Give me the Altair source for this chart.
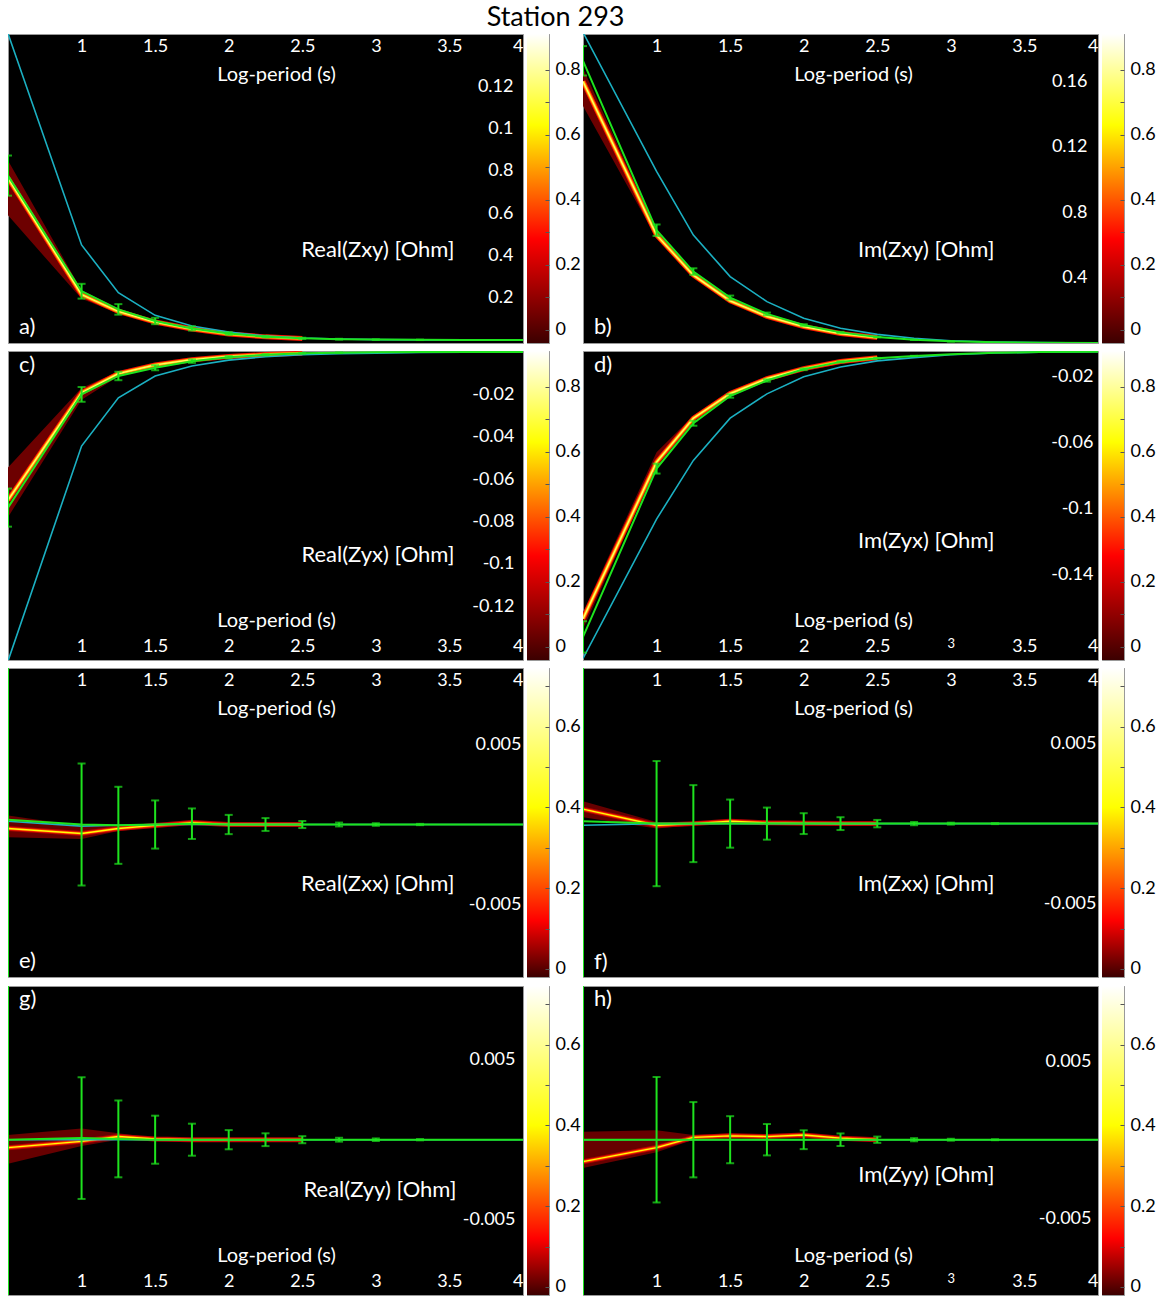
import altair as alt
import pandas as pd

# ---------------- data ----------------
X = [0.5, 1.0, 1.25, 1.5, 1.75, 2.0, 2.25, 2.5, 2.75, 3.0, 3.3, 3.6, 4.0]
BAND_X = [0.5, 1.0, 1.25, 1.5, 1.75, 2.0, 2.25, 2.5]
XTICKS = [1, 1.5, 2, 2.5, 3, 3.5, 4]

CB_TICKS_TOP = [0, 0.1, 0.2, 0.3, 0.4, 0.5, 0.6, 0.7, 0.8]
CB_LABELS_TOP = ["0", "", "0.2", "", "0.4", "", "0.6", "", "0.8"]
CB_TICKS_BOT = [0, 0.1, 0.2, 0.3, 0.4, 0.5, 0.6, 0.7]
CB_LABELS_BOT = ["0", "", "0.2", "", "0.4", "", "0.6", ""]
CB_DOMAIN_TOP = [-0.04, 0.28, 0.63, 0.91]
CB_DOMAIN_BOT = [-0.02, 0.12, 0.40, 0.745]
HOT = ["#3c0000", "#ff0000", "#ffff00", "#ffffff"]
LEVELS_TOP = [0.04, 0.3, 0.5, 0.72]
LEVELS_BOT = [0.03, 0.16, 0.34, 0.6]

# a) Real(Zxy)
a_green = [0.0778, 0.0231, 0.0145, 0.0090, 0.0055, 0.0031, 0.0016, 0.0008, 0.0004, 0.0002, 0.0001, 0.00005, 0.0]
a_err = [0.0095, 0.0035, 0.0025, 0.0015, 0.0010, 0.0006, 0.0004, 0.0003, 0.0002, 0.0001, 0.0001, 0.0, 0.0]
a_cyan = [0.145, 0.045, 0.0224, 0.0117, 0.0066, 0.0038, 0.0019, 0.0010, 0.0005, 0.0002, 0.0001, 0.00005, 0.0]
a_lo = [0.059, 0.0195, 0.0125, 0.0080, 0.0048, 0.0026, 0.0014, 0.0007]
a_hi = [0.085, 0.0235, 0.0150, 0.0092, 0.0056, 0.0032, 0.0017, 0.0008]
a_core = [0.0765, 0.0215, 0.0135, 0.0085, 0.0052, 0.0029, 0.0015, 0.0007]
a_ytv = [0.12, 0.10, 0.08, 0.06, 0.04, 0.02]
a_ytl = ["0.12", "0.1", "0.8", "0.6", "0.4", "0.2"]

# b) Im(Zxy)
b_green = [0.1726, 0.069, 0.0437, 0.0278, 0.0178, 0.011, 0.0065, 0.0037, 0.002, 0.001, 0.0005, 0.0002, 0.0]
b_err = [0.009, 0.0035, 0.002, 0.0012, 0.0008, 0.0005, 0.0003, 0.0002, 0.0001, 0.0001, 0.0, 0.0, 0.0]
b_cyan = [0.190, 0.105, 0.066, 0.0406, 0.0253, 0.0151, 0.009, 0.0053, 0.0029, 0.0014, 0.0006, 0.0002, 0.0]
b_lo = [0.145, 0.064, 0.040, 0.0245, 0.0155, 0.0095, 0.0055, 0.0031]
b_hi = [0.168, 0.069, 0.043, 0.0270, 0.0170, 0.0105, 0.0062, 0.0035]
b_core = [0.160, 0.066, 0.0415, 0.0258, 0.0163, 0.0100, 0.0058, 0.0033]
b_ytv = [0.16, 0.12, 0.08, 0.04]
b_ytl = ["0.16", "0.12", "0.8", "0.4"]

# c) Real(Zyx)
c_green = [-0.0735, -0.020, -0.0113, -0.0074, -0.0043, -0.0024, -0.0013, -0.0006, -0.0003, -0.0001, 0.0, 0.0, 0.0]
c_err = [0.0090, 0.0035, 0.0020, 0.0012, 0.0008, 0.0005, 0.0003, 0.0002, 0.0001, 0.0, 0.0, 0.0, 0.0]
c_cyan = [-0.146, -0.0444, -0.0216, -0.0113, -0.0066, -0.0038, -0.0022, -0.0013, -0.0008, -0.0005, -0.0002, -0.0001, 0.0]
c_lo = [-0.078, -0.0225, -0.0115, -0.0072, -0.0043, -0.0026, -0.0014, -0.0007]
c_hi = [-0.0546, -0.0170, -0.0092, -0.0055, -0.0030, -0.0018, -0.0010, -0.0005]
c_core = [-0.070, -0.0192, -0.0102, -0.0061, -0.0036, -0.0021, -0.0012, -0.0006]
c_ytv = [-0.02, -0.04, -0.06, -0.08, -0.1, -0.12]
c_ytl = ["-0.02", "-0.04", "-0.06", "-0.08", "-0.1", "-0.12"]

# d) Im(Zyx)
d_green = [-0.173, -0.071, -0.0435, -0.027, -0.0176, -0.0108, -0.0063, -0.0041, -0.0027, -0.0016, -0.0008, -0.0003, -0.0001]
d_err = [0.0095, 0.003, 0.0015, 0.001, 0.0007, 0.0005, 0.0003, 0.0002, 0.0001, 0.0, 0.0, 0.0, 0.0]
d_cyan = [-0.186, -0.1016, -0.066, -0.0404, -0.0257, -0.0153, -0.0094, -0.0057, -0.0037, -0.002, -0.0009, -0.0004, -0.0001]
d_lo = [-0.168, -0.070, -0.0425, -0.0265, -0.017, -0.0108, -0.0064, -0.0040]
d_hi = [-0.158, -0.061, -0.0390, -0.0245, -0.0158, -0.0098, -0.0058, -0.0036]
d_core = [-0.162, -0.067, -0.0405, -0.0255, -0.0165, -0.0104, -0.0061, -0.0038]
d_ytv = [-0.02, -0.06, -0.1, -0.14]
d_ytl = ["-0.02", "-0.06", "-0.1", "-0.14"]

# e) Real(Zxx)
e_green = [0.0003, 0.0, -0.00005, 0.0, 0.00005, 0.0, 0.0, 0.0, 0.0, 0.0, 0.0, 0.0, 0.0]
e_err = [0.02, 0.0038, 0.0024, 0.0015, 0.00095, 0.0006, 0.0004, 0.00022, 0.00012, 0.00008, 0.00004, 0.0, 0.0]
e_cyan = [0.0002, -0.0001, -0.00005, 0.0, 0.0, 0.0, 0.0, 0.0, 0.0, 0.0, 0.0, 0.0, 0.0]
e_lo = [-0.0008, -0.0009, -0.0004, -0.00015, 0.0, -0.00005, -0.00003, 0.0]
e_hi = [0.00056, -0.0001, -0.0001, 0.00003, 0.0002, 0.00005, 0.00003, 0.0]
e_core = [-0.00025, -0.00056, -0.00025, -0.00006, 0.00012, 0.0, 0.0, 0.0]

# f) Im(Zxx)
f_green = [0.00015, 0.0, 0.0, 0.0, 0.0, 0.0, 0.0, 0.0, 0.0, 0.0, 0.0, 0.0, 0.0]
f_err = [0.02, 0.0039, 0.0024, 0.0015, 0.001, 0.00065, 0.0004, 0.00023, 0.0001, 0.00006, 0.00003, 0.0, 0.0]
f_cyan = [-0.0001, 0.0, 0.0, 0.0, 0.0, 0.0, 0.0, 0.0, 0.0, 0.0, 0.0, 0.0, 0.0]
f_lo = [0.0004, -0.0003, -0.0001, 0.0, -0.00005, -0.00003, 0.0, 0.0]
f_hi = [0.0014, 0.0001, 0.0001, 0.0002, 0.0001, 0.00005, 0.0, 0.0]
f_core = [0.0009, -0.0001, 0.0, 0.00015, 0.00005, 0.00002, 0.0, 0.0]

# g) Real(Zyy)
g_green = [0.0, 0.0001, 0.00005, 0.0, 0.0, 0.0, 0.0, 0.0, 0.0, 0.0, 0.0, 0.0, 0.0]
g_err = [0.02, 0.0038, 0.0024, 0.0015, 0.001, 0.0006, 0.0004, 0.00022, 0.00012, 0.00008, 0.00004, 0.0, 0.0]
g_cyan = [0.0, 0.0, 0.0, 0.0, 0.0, 0.0, 0.0, 0.0, 0.0, 0.0, 0.0, 0.0, 0.0]
g_lo = [-0.0015, -0.0004, 0.0, -0.0001, -0.00005, 0.0, 0.0, 0.0]
g_hi = [0.0003, 0.0007, 0.0004, 0.0001, 0.00005, 0.0, 0.0, 0.0]
g_core = [-0.0005, -0.0001, 0.0002, 0.00005, 0.0, 0.0, 0.0, 0.0]

# h) Im(Zyy)
h_green = [0.0, 0.0, 0.0, 0.0, 0.0, 0.0, 0.0, 0.0, 0.0, 0.0, 0.0, 0.0, 0.0]
h_err = [0.02, 0.004, 0.0024, 0.0015, 0.001, 0.0006, 0.0004, 0.0002, 0.0001, 0.00006, 0.00003, 0.0, 0.0]
h_cyan = [0.0, 0.0, 0.0, 0.0, 0.0, 0.0, 0.0, 0.0, 0.0, 0.0, 0.0, 0.0, 0.0]
h_lo = [-0.0018, -0.0008, 0.0, 0.0001, 0.0001, 0.0001, 0.0, 0.0]
h_hi = [0.0005, 0.0006, 0.0003, 0.0004, 0.0003, 0.0004, 0.0002, 0.0]
h_core = [-0.0014, -0.0005, 0.00015, 0.00025, 0.0002, 0.0003, 0.0001, 0.0]

SMALL_YTV = [0.005, -0.005]
SMALL_YTL = ["0.005", "-0.005"]

FONT = "Lato"
GREEN = "#1ee41e"
CYAN = "#1bb0c2"
W, H = 515, 309
CBW = 22

PANELS = [
    dict(letter="a)", name="Real(Zxy) [Ohm]", green=a_green, err=a_err, cyan=a_cyan, lo=a_lo, hi=a_hi, core=a_core,
         ydom=[-0.0014, 0.1448], ytv=a_ytv, ytl=a_ytl, ypad=-10, top=True, col=0, small3=False,
         tx=-69, ty=222, ly=300, lyo=0),
    dict(letter="b)", name="Im(Zxy) [Ohm]", green=b_green, err=b_err, cyan=b_cyan, lo=b_lo, hi=b_hi, core=b_core,
         ydom=[0.0, 0.189], ytv=b_ytv, ytl=b_ytl, ypad=-11, top=True, col=1, small3=False,
         tx=-104, ty=222, ly=300, lyo=0),
    dict(letter="c)", name="Real(Zyx) [Ohm]", green=c_green, err=c_err, cyan=c_cyan, lo=c_lo, hi=c_hi, core=c_core,
         ydom=[-0.1455, 0.0005], ytv=c_ytv, ytl=c_ytl, ypad=-9, top=False, col=0, small3=False,
         tx=-69, ty=210, ly=21, lyo=0),
    dict(letter="d)", name="Im(Zyx) [Ohm]", green=d_green, err=d_err, cyan=d_cyan, lo=d_lo, hi=d_hi, core=d_core,
         ydom=[-0.187, 0.0003], ytv=d_ytv, ytl=d_ytl, ypad=-5, top=False, col=1, small3=True,
         tx=-104, ty=196, ly=21, lyo=-8),
    dict(letter="e)", name="Real(Zxx) [Ohm]", green=e_green, err=e_err, cyan=e_cyan, lo=e_lo, hi=e_hi, core=e_core,
         ydom=[-0.0095, 0.00975], ytv=SMALL_YTV, ytl=SMALL_YTL, ypad=-2, top=True, col=0, small3=False,
         tx=-69, ty=222, ly=300, lyo=0),
    dict(letter="f)", name="Im(Zxx) [Ohm]", green=f_green, err=f_err, cyan=f_cyan, lo=f_lo, hi=f_hi, core=f_core,
         ydom=[-0.00956, 0.0097], ytv=SMALL_YTV, ytl=SMALL_YTL, ypad=-2, top=True, col=1, small3=False,
         tx=-104, ty=222, ly=301, lyo=0),
    dict(letter="g)", name="Real(Zyy) [Ohm]", green=g_green, err=g_err, cyan=g_cyan, lo=g_lo, hi=g_hi, core=g_core,
         ydom=[-0.0097, 0.0096], ytv=SMALL_YTV, ytl=SMALL_YTL, ypad=-8, top=False, col=0, small3=False,
         tx=-67, ty=210, ly=20, lyo=0),
    dict(letter="h)", name="Im(Zyy) [Ohm]", green=h_green, err=h_err, cyan=h_cyan, lo=h_lo, hi=h_hi, core=h_core,
         ydom=[-0.0099, 0.0098], ytv=SMALL_YTV, ytl=SMALL_YTL, ypad=-7, top=False, col=1, small3=True,
         tx=-104, ty=195, ly=20, lyo=0),
]


def label_expr(vals, labs):
    parts = [f"abs(datum.value - ({v})) < 1e-9 ? '{l}'" for v, l in zip(vals, labs)]
    return " : ".join(parts) + " : ''"


def make_colorbar(row_top):
    cdom = CB_DOMAIN_TOP if row_top else CB_DOMAIN_BOT
    cvals = CB_TICKS_TOP if row_top else CB_TICKS_BOT
    clabs = CB_LABELS_TOP if row_top else CB_LABELS_BOT
    span = cdom[-1] - cdom[0]
    stops = [alt.GradientStop(color=c, offset=(v - cdom[0]) / span) for v, c in zip(cdom, HOT)]
    grad = alt.LinearGradient(gradient="linear", stops=stops, x1=0, x2=0, y1=1, y2=0)
    df = pd.DataFrame({"lo": [cdom[0]], "hi": [cdom[-1]]})
    axis = alt.Axis(orient="right", values=cvals, labelExpr=label_expr(cvals, clabs), title=None,
                    labelFontSize=18, labelFont=FONT, labelColor="black", labelPadding=6, offset=-4,
                    domain=False, ticks=True, tickSize=4, tickColor="#555555", tickWidth=1, grid=False,
                    labelOverlap=False, zindex=1)
    return alt.Chart(df).mark_rect(color=grad).encode(
        y=alt.Y("lo:Q", scale=alt.Scale(domain=[cdom[0], cdom[-1]], nice=False, zero=False), axis=axis),
        y2="hi:Q", x=alt.value(0), x2=alt.value(CBW),
    ).properties(width=CBW, height=H)


def make_panel(p, row_top):
    xs = alt.Scale(domain=[0.5, 4.0], nice=False, zero=False)
    ys = alt.Scale(domain=p["ydom"], nice=False, zero=False)
    lfs = {"condition": {"test": "datum.value == 3", "value": 13}, "value": 18} if p["small3"] else 18
    title_x = 268 if p["col"] == 0 else 270
    if p["top"]:
        xaxis = alt.Axis(orient="top", values=XTICKS, format="~g", title="Log-period (s)",
                         labelPadding=-21, labelFlush=True, labelFontSize=lfs, labelColor="white",
                         titleX=title_x, titleY=46, titleAlign="center", titleBaseline="alphabetic",
                         titleFontSize=20, titleColor="white", titleFontWeight="normal",
                         domain=False, ticks=False, tickSize=0, grid=False, labelFont=FONT, titleFont=FONT)
    else:
        xaxis = alt.Axis(orient="bottom", values=XTICKS, format="~g", title="Log-period (s)",
                         labelPadding=-23, labelFlush=True, labelFontSize=lfs, labelColor="white",
                         titleX=title_x, titleY=-34, titleAlign="center", titleBaseline="alphabetic",
                         titleFontSize=20, titleColor="white", titleFontWeight="normal",
                         domain=False, ticks=False, tickSize=0, grid=False, labelFont=FONT, titleFont=FONT)
    yaxis = alt.Axis(orient="right", values=p["ytv"], labelExpr=label_expr(p["ytv"], p["ytl"]),
                     labelPadding=p["ypad"], labelAlign="right", labelOffset=p["lyo"], labelFontSize=18,
                     labelColor="white", title=p["name"], titleAngle=0, titleAlign="right",
                     titleBaseline="alphabetic", titleX=p["tx"], titleY=p["ty"], titleFontSize=22,
                     titleColor="white", titleFontWeight="normal", domain=False, ticks=False,
                     tickSize=0, grid=False, labelFont=FONT, titleFont=FONT)
    cdom = CB_DOMAIN_TOP if row_top else CB_DOMAIN_BOT
    levels = LEVELS_TOP if row_top else LEVELS_BOT
    cscale = alt.Scale(domain=cdom, range=HOT, interpolate="rgb")

    X_ENC = alt.X("x:Q", scale=xs, axis=xaxis)

    band_area = pd.DataFrame({"x": BAND_X, "lo": p["lo"], "hi": p["hi"], "prob": levels[0]})
    layers = [
        alt.Chart(band_area).mark_area(clip=True, interpolate="linear").encode(
            x=X_ENC, y=alt.Y("lo:Q", scale=ys, axis=yaxis), y2="hi:Q",
            color=alt.Color("prob:Q", scale=cscale, legend=None))
    ]
    widths = [5, 3, 1.3]
    for lvl, w in zip(levels[1:], widths):
        core_df = pd.DataFrame({"x": BAND_X, "core": p["core"], "prob": lvl})
        layers.append(alt.Chart(core_df).mark_line(clip=True, strokeWidth=w, strokeCap="butt").encode(
            x=X_ENC, y=alt.Y("core:Q", scale=ys, axis=yaxis),
            color=alt.Color("prob:Q", scale=cscale, legend=None)))

    cyan_df = pd.DataFrame({"x": X, "y": p["cyan"]})
    layers.append(alt.Chart(cyan_df).mark_line(clip=True, color=CYAN, strokeWidth=1.6).encode(
        x=X_ENC, y=alt.Y("y:Q", scale=ys, axis=yaxis)))

    obs = pd.DataFrame({"x": X, "y": p["green"], "err": p["err"]})
    obs["lo"] = obs["y"] - obs["err"]
    obs["hi"] = obs["y"] + obs["err"]
    layers.append(alt.Chart(obs).mark_line(clip=True, color=GREEN, strokeWidth=2).encode(
        x=X_ENC, y=alt.Y("y:Q", scale=ys, axis=yaxis)))
    bars = obs[obs["err"] > 0]
    layers.append(alt.Chart(bars).mark_rule(clip=True, color=GREEN, strokeWidth=2).encode(
        x=X_ENC, y=alt.Y("lo:Q", scale=ys, axis=yaxis), y2="hi:Q"))
    caps = pd.DataFrame({"x": list(bars["x"]) * 2, "y": list(bars["lo"]) + list(bars["hi"])})
    layers.append(alt.Chart(caps).mark_tick(clip=True, color=GREEN, orient="horizontal", size=8,
                                             thickness=2).encode(
        x=X_ENC, y=alt.Y("y:Q", scale=ys, axis=yaxis)))

    lab = pd.DataFrame({"t": [p["letter"]]})
    layers.append(alt.Chart(lab).mark_text(align="left", baseline="alphabetic", fontSize=22, font=FONT,
                                           color="white").encode(
        text="t:N", x=alt.value(11), y=alt.value(p["ly"])))

    return alt.layer(*layers).properties(width=W, height=H)


rows = []
for r in range(4):
    row_top = r < 2
    left = alt.hconcat(make_panel(PANELS[2 * r], row_top), make_colorbar(row_top), spacing=2)
    right = alt.hconcat(make_panel(PANELS[2 * r + 1], row_top), make_colorbar(row_top), spacing=2)
    rows.append(alt.hconcat(left, right, spacing=1))

chart = alt.vconcat(*rows, spacing=6).properties(
    title=alt.TitleParams(text="Station 293", fontSize=27, font=FONT, fontWeight="normal", anchor="middle",
                          dx=-26, offset=2, color="black"),
    padding={"left": 7, "top": 3, "right": 0, "bottom": 0},
    background="white",
).configure_view(fill="black", stroke="#999999", strokeWidth=1)

chart.save("out.html", embed_options={"renderer": "svg", "actions": False})
